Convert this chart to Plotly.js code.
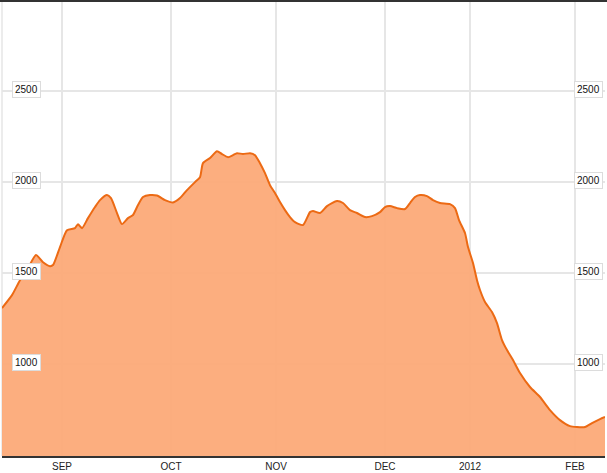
<!DOCTYPE html>
<html>
<head>
<meta charset="utf-8">
<script src="https://cdn.plot.ly/plotly-3.0.1.min.js"></script>
<style>
  html, body { margin: 0; padding: 0; background: #ffffff; }
  #plot { width: 607px; height: 473px; }
</style>
</head>
<body>
<div id="plot"></div>
<script>
// trading-day position of each reading, and the value
const day = [0, 2, 3.6, 5, 6.8, 8.2, 9.6, 10.2, 11.6, 13, 14.6, 15.2, 16, 17.2, 18.6, 19.6,
  21, 21.8, 23, 24, 25.2, 26.2, 27.2, 28.2, 29.6, 31, 32.6, 34.2, 35.6, 37, 38.6, 39.6,
  40.2, 41.6, 43, 44, 45.2, 46.2, 47, 48.2, 49.6, 50.6, 51.6, 52.6, 53.6, 54.6, 55.6,
  56.6, 57.6, 58.6, 60.2, 61.6, 62.2, 63.6, 65, 67, 68.2, 69.6, 71, 72.6, 74, 75.6,
  76.6, 77.6, 79, 80.6, 81.6, 82.6, 83.6, 85, 86.2, 87.6, 89.6, 90.6, 91.4, 92.6, 93.2,
  94.2, 95, 95.6, 96.6, 98, 99, 100, 101, 102.2, 103.6, 105.6, 107.6, 109.6, 111.6,
  113.6, 115, 116.6, 118, 119.6, 120.6];
const value = [1308, 1379, 1461, 1516, 1599, 1560, 1538, 1544, 1643, 1736, 1747, 1769, 1747, 1802, 1863, 1901,
  1929, 1912, 1830, 1769, 1802, 1819, 1874, 1918, 1929, 1926, 1901, 1888, 1912, 1956, 2000, 2027,
  2104, 2132, 2170, 2154, 2137, 2148, 2159, 2154, 2159, 2148, 2104, 2049, 1983, 1940, 1890,
  1846, 1808, 1780, 1764, 1835, 1841, 1830, 1868, 1896, 1885, 1846, 1830, 1808, 1813, 1835,
  1863, 1868, 1857, 1852, 1885, 1918, 1929, 1923, 1901, 1885, 1879, 1857, 1791, 1720, 1643,
  1555, 1461, 1407, 1341, 1286, 1225, 1132, 1077, 1022, 951, 874, 819, 747, 692,
  659, 654, 654, 676, 698, 709];

const monthTicks = [12, 33.8, 54.8, 76.6, 93.6, 114.6];
const monthLabels = ['SEP', 'OCT', 'NOV', 'DEC', '2012', 'FEB'];
const valueTicks = [1000, 1500, 2000, 2500];

const trace = {
  x: day,
  y: value,
  type: 'scatter',
  mode: 'lines',
  fill: 'tozeroy',
  fillcolor: 'rgba(252,170,120,0.95)',
  line: { color: '#ec6a14', width: 2, shape: 'spline', smoothing: 0.6 },
  hoverinfo: 'skip'
};

// boxed value labels on both sides, inside the plot
const labelBox = (v, x, anchor) => ({
  xref: 'paper', yref: 'y', x: x, y: v, xanchor: anchor, yanchor: 'middle',
  text: String(v), showarrow: false,
  font: { family: 'Liberation Sans, Arial, sans-serif', size: 10, color: '#111' },
  bgcolor: '#ffffff', bordercolor: '#dcdcdc', borderwidth: 1, borderpad: 2,
  yshift: 2
});
const annotations = [];
valueTicks.forEach(v => {
  annotations.push(labelBox(v, 0.0166, 'left'));
  annotations.push(labelBox(v, 0.9966, 'right'));
});

const layout = {
  width: 607,
  height: 473,
  margin: { l: 2, r: 2, t: 1, b: 17 },
  paper_bgcolor: '#ffffff',
  plot_bgcolor: '#ffffff',
  showlegend: false,
  hovermode: false,
  xaxis: {
    range: [0, 120.6],
    tickmode: 'array',
    tickvals: monthTicks,
    ticktext: monthLabels,
    showgrid: true,
    gridcolor: '#e6e6e6',
    gridwidth: 1.5,
    zeroline: false,
    showline: true,
    linecolor: '#333333',
    linewidth: 1.5,
    ticks: '',
    tickfont: { family: 'Liberation Sans, Arial, sans-serif', size: 10, color: '#222' },
    fixedrange: true
  },
  yaxis: {
    range: [495, 2995],
    tickmode: 'array',
    tickvals: valueTicks,
    showticklabels: false,
    showgrid: true,
    gridcolor: '#e6e6e6',
    gridwidth: 1.5,
    zeroline: false,
    showline: false,
    fixedrange: true
  },
  shapes: [
    { type: 'line', xref: 'paper', yref: 'paper', x0: -0.01, x1: 1.01, y0: 1, y1: 1,
      line: { color: '#333333', width: 2 } },
    { type: 'line', xref: 'paper', yref: 'paper', x0: 0, x1: 0, y0: 0, y1: 1,
      line: { color: '#e6e6e6', width: 1.5 }, layer: 'below' }
  ],
  annotations: annotations
};

Plotly.newPlot('plot', [trace], layout, { displayModeBar: false, staticPlot: true });
</script>
</body>
</html>
